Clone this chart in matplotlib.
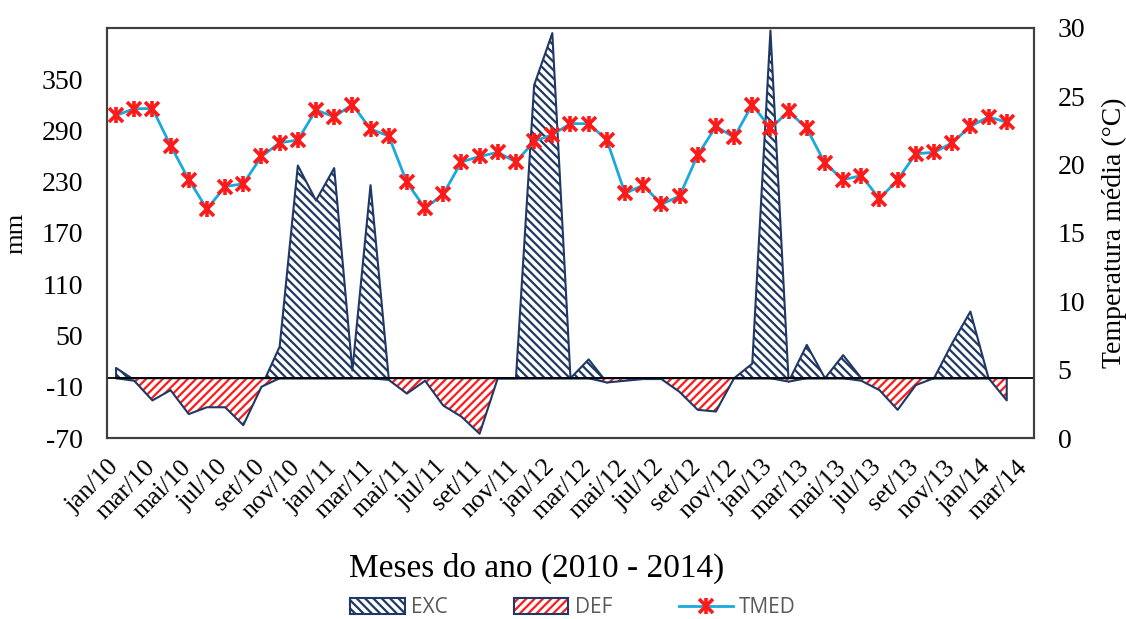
import numpy as np
import matplotlib.pyplot as plt
from matplotlib.lines import Line2D
from matplotlib.patches import Patch
from matplotlib.legend_handler import HandlerTuple
from matplotlib.transforms import ScaledTranslation

plt.rcParams['hatch.linewidth'] = 1.6
plt.rcParams['axes.unicode_minus'] = False

# categories: jan/10 .. mar/14 (data runs to fev/14)
month_names = ['jan', 'fev', 'mar', 'abr', 'mai', 'jun',
               'jul', 'ago', 'set', 'out', 'nov', 'dez']
categories = [f"{month_names[k % 12]}/{10 + k // 12}" for k in range(51)]

# water balance (mm) excess / deficit
exc = [12, -2, 0, 0, 0, 0, 0, 0, -10, 37,
       249, 208, 246, 9, 226, 0, 0, 0, 0, 0,
       0, 0, 0, 343, 404, 0, 22, -5, 0, 0,
       0, 0, 0, 0, 0, 17, 407, -4, 39, 0,
       27, 0, 0, 0, 0, 0, 41, 78, 0, 0]
defi = [0, -3, -26, -14, -42, -34, -34, -55, -10, 0,
        0, 0, 0, 0, 0, -2, -18, -3, -32, -45,
        -65, 0, 0, 0, 0, 0, 0, -5, -3, -1,
        -1, -16, -37, -39, 0, 0, 0, -4, 0, 0,
        0, -3, -14, -37, -8, 0, 0, 0, 0, -26]
# mean temperature (°C)
tmed = [23.6, 24.1, 24.1, 21.4, 18.9, 16.75, 18.4, 18.6, 20.6, 21.6,
        21.8, 24.0, 23.5, 24.4, 22.6, 22.1, 18.7, 16.8, 17.85, 20.2,
        20.6, 20.9, 20.2, 21.7, 22.2, 23.0, 23.0, 21.8, 17.9, 18.5,
        17.1, 17.7, 20.7, 22.8, 22.0, 24.4, 22.65, 23.9, 22.65, 20.1,
        18.9, 19.2, 17.5, 18.9, 20.8, 20.9, 21.6, 22.8, 23.5, 23.1]

navy = '#1F3864'
red = '#FF1A1A'
cyan = '#1BA8DC'
serif = 'Liberation Serif'
hatch_exc = '\\\\\\\\'
hatch_def = '////'

x = np.arange(len(tmed))

fig = plt.figure(figsize=(11.26, 6.19), dpi=100)
ax = fig.add_axes([0.095, 0.2924, 0.8233, 0.6624])

# EXC area
ax.fill_between(x, 0, exc, facecolor='white', edgecolor=navy, hatch=hatch_exc,
                linewidth=1.5, zorder=2)
# DEF area: red hatch, navy outline
ax.fill_between(x, 0, defi, facecolor='white', edgecolor=red, hatch=hatch_def,
                linewidth=0, zorder=2)
ax.fill_between(x, 0, defi, facecolor='none', edgecolor=navy,
                linewidth=1.5, zorder=3)
ax.axhline(0, color='black', linewidth=1.3, zorder=4)

ax.set_xlim(-0.5, len(categories) - 0.5)
ax.set_ylim(-70, 410)
ax.set_yticks(np.arange(-70, 351, 60))
ax.set_xticks(np.arange(0, len(categories), 2))
ax.set_xticklabels(categories[::2], rotation=45, ha='right',
                   fontsize=18.5, family=serif)
ax.tick_params(axis='both', length=0)
ax.tick_params(axis='y', pad=17, labelsize=20)
ax.tick_params(axis='x', pad=13)
# nudge the slanted month labels a little to the right
shift = ScaledTranslation(7 / 100, 0, fig.dpi_scale_trans)
for t in ax.get_xticklabels():
    t.set_transform(t.get_transform() + shift)
for t in ax.get_yticklabels():
    t.set_family(serif)
ax.set_ylabel('mm', fontsize=19, family=serif)
ax.yaxis.set_label_coords(-0.086, 0.5)
ax.set_xlabel('Meses do ano (2010 - 2014)', fontsize=24, family=serif)
ax.xaxis.set_label_coords(0.464, -0.28)
for s in ax.spines.values():
    s.set_color('#404040')
    s.set_linewidth(1.5)

ax2 = ax.twinx()
ax2.plot(x, tmed, color=cyan, linewidth=2, zorder=5)
ax2.plot(x, tmed, linestyle='none', marker='x', markersize=10,
         markeredgewidth=2.6, color=red, zorder=6)
ax2.plot(x, tmed, linestyle='none', marker='|', markersize=12,
         markeredgewidth=2.6, color=red, zorder=6)
ax2.set_ylim(0, 30)
ax2.set_yticks(np.arange(0, 31, 5))
ax2.tick_params(axis='y', length=0, pad=17, labelsize=20)
for t in ax2.get_yticklabels():
    t.set_family(serif)
ax2.set_ylabel('Temperatura média (°C)', fontsize=20, family=serif)
ax2.yaxis.set_label_coords(1.073, 0.5)
for s in ax2.spines.values():
    s.set_color('#404040')
    s.set_linewidth(1.5)

# legend
h_exc = Patch(facecolor='white', edgecolor=navy, hatch=hatch_exc, linewidth=1.5)
h_def = (Patch(facecolor='white', edgecolor=red, hatch=hatch_def, linewidth=0),
         Patch(facecolor='none', edgecolor=navy, linewidth=1.5))
h_tmed = (Line2D([], [], color=cyan, linewidth=2),
          Line2D([], [], linestyle='none', marker='x', markersize=10,
                 markeredgewidth=2.6, color=red),
          Line2D([], [], linestyle='none', marker='|', markersize=12,
                 markeredgewidth=2.6, color=red))
leg = fig.legend([h_exc, h_def, h_tmed], ['EXC', 'DEF', 'TMED'],
                 loc='center', bbox_to_anchor=(0.509, 0.018), ncol=3,
                 frameon=False, handlelength=2.6, handleheight=0.8,
                 columnspacing=3.2, handletextpad=0.3,
                 handler_map={tuple: HandlerTuple(ndivide=1, pad=0)},
                 prop={'family': 'Open Sans', 'size': 15})
for t in leg.get_texts():
    t.set_color('#595959')

fig.savefig('out.png', dpi=100)
